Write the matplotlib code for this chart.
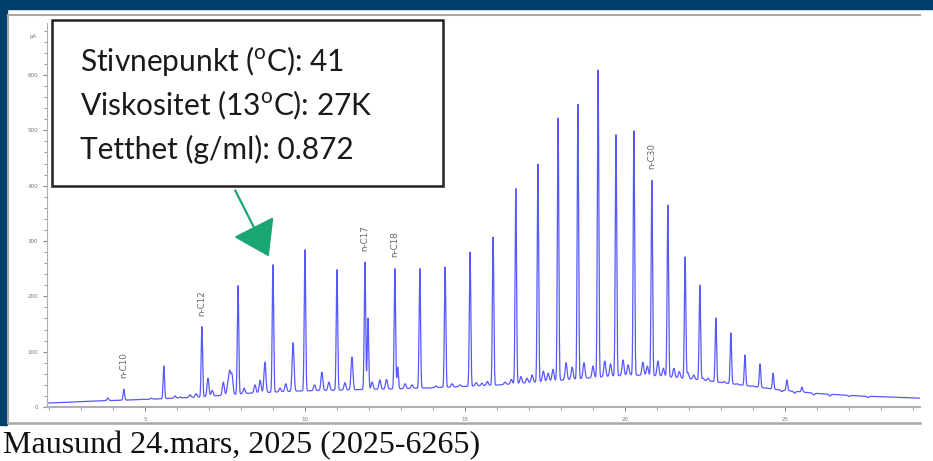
import numpy as np
import matplotlib.pyplot as plt
from matplotlib.patches import Rectangle

# n-alkan topper: retensjonstid (min) og toppverdi (pA)
peak_t = [4.34, 5.59, 6.78, 7.91, 9.00, 10.00, 11.00, 11.875, 11.97, 12.81, 12.90,
          13.59, 14.38, 15.16, 15.88, 16.59, 17.28, 17.91, 18.53, 19.16, 19.72,
          20.28, 20.84, 21.34, 21.88, 22.34, 22.84, 23.31, 23.75, 24.22, 24.63,
          25.06, 25.53]
peak_v = [32, 74, 145, 220, 257, 284, 248, 262, 161, 251, 72,
          251, 253, 280, 307, 396, 439, 524, 549, 609, 492,
          499, 410, 365, 271, 220, 161, 134, 94, 78, 61,
          49, 36]

# små topper
minor_t = [3.84, 5.94, 6.41, 6.97, 7.59, 7.72, 8.44, 8.75, 9.22, 9.63, 10.53,
           11.47, 12.34, 13.13, 13.90, 14.84, 15.53, 16.25, 16.94, 17.60, 18.16,
           18.72, 19.37, 19.94, 20.56, 21.03, 21.53, 21.97, 22.44,
           4.90, 5.20, 6.10, 6.60, 7.10, 7.45, 7.65, 8.10, 8.60, 9.40, 10.30,
           10.75, 11.25, 12.10, 12.55, 13.35, 14.10, 14.60, 15.35, 15.70, 16.45,
           16.75, 17.10, 17.45, 17.75, 18.35, 19.00, 19.55, 20.10, 20.70, 21.20,
           21.70, 22.15, 22.60, 23.10, 23.50, 24.00, 24.45, 24.90, 25.30, 25.90,
           26.40, 27.00, 27.60]
minor_v = [16, 20, 22, 52, 40, 58, 40, 81, 34, 116, 63,
           90, 49, 42, 34, 40, 43, 45, 52, 61, 80,
           80, 83, 85, 81, 83, 70, 62, 52,
           14, 16, 18, 24, 30, 45, 62, 34, 48, 42, 40,
           45, 44, 45, 50, 40, 38, 42, 44, 46, 50,
           55, 58, 65, 68, 72, 74, 78, 76, 74, 70,
           64, 58, 52, 46, 42, 38, 34, 28, 25, 22,
           20, 19, 17]

# grunnlinje (pukkel)
base_t = [1.94, 3.60, 5.16, 6.72, 8.28, 9.84, 11.40, 12.97, 14.53, 16.10, 17.66,
          19.22, 20.16, 21.10, 22.34, 23.60, 24.84, 26.10, 27.34, 29.22]
base_v = [7, 11, 14, 18, 25, 29, 31, 33, 36, 40, 47,
          54, 58, 56, 49, 40, 31, 24, 20, 16]

labels = {"n-C10": 4.34, "n-C12": 6.78, "n-C17": 11.875, "n-C18": 12.81, "n-C30": 20.84}

info = [r"Stivnepunkt ($^{\mathrm{o}}$C): 41",
        r"Viskositet (13$^{\mathrm{o}}$C): 27K",
        r"Tetthet (g/ml): 0.872"]
caption = "Mausund 24.mars, 2025 (2025-6265)"

plt.rcParams['mathtext.fontset'] = 'custom'
plt.rcParams['mathtext.rm'] = 'Lato'

W, H = 933, 461
fig = plt.figure(figsize=(W / 100, H / 100), dpi=100)

# bakgrunn / ramme i piksler
bg = fig.add_axes([0, 0, 1, 1], zorder=0)
bg.set_xlim(0, W)
bg.set_ylim(H, 0)
bg.axis("off")
bg.add_patch(Rectangle((0, 0), W, 9, color="#003e6c"))
bg.add_patch(Rectangle((0, 0), 6.5, 425, color="#003e6c"))
bg.plot([7.5, 920], [15, 15], color="#a8a8a8", lw=1.5)
bg.plot([7.5, 7.5], [15, 423], color="#a8a8a8", lw=1.5)
bg.plot([7.5, 920], [423, 423], color="#a8a8a8", lw=1.8)
bg.text(3, 453, caption, family="Liberation Serif", fontsize=23, va="baseline", color="#111")

# kromatogram
ax = fig.add_axes([47 / W, 1 - 407 / H, (920 - 47) / W, (407 - 23) / H], zorder=1)
ax.patch.set_alpha(0)
t = np.arange(1.94, 29.22, 0.004)
sig = np.interp(t, base_t, base_v).astype(float)
for pt, pv in zip(peak_t, peak_v):
    b = np.interp(pt, base_t, base_v)
    sig += (pv - b) * np.exp(-0.5 * ((t - pt) / 0.022) ** 2)
for pt, pv in zip(minor_t, minor_v):
    b = np.interp(pt, base_t, base_v)
    sig += (pv - b) * np.exp(-0.5 * ((t - pt) / 0.03) ** 2)
ax.plot(t, sig, color="#4646ff", lw=0.9, alpha=0.9)

for name, lt in labels.items():
    lv = peak_v[peak_t.index(lt)]
    ax.annotate(name, (lt, lv), xytext=(0, 8), textcoords="offset points",
                rotation=90, ha="center", va="bottom", fontsize=6.3, color="#666")

ax.set_xlim(1.94, 29.22)
ax.set_ylim(0, 694)
for s in ["top", "right"]:
    ax.spines[s].set_visible(False)
ax.spines["left"].set_color("#b0b0b0")
ax.spines["bottom"].set_color("#b0b0b0")
ax.spines["bottom"].set_linewidth(1.5)
ax.set_xticks([5, 10, 15, 20, 25])
ax.set_xticks(np.arange(2, 30, 1), minor=True)
ax.set_yticks(np.arange(0, 700, 100))
ax.set_yticks(np.arange(0, 690, 20), minor=True)
ax.tick_params(axis="both", which="both", colors="#888", labelsize=4, labelcolor="#777")
ax.tick_params(which="major", length=3)
ax.tick_params(which="minor", length=2)
ax.tick_params(axis="x", pad=4)
ax.text(-0.012, 670, "pA", transform=ax.get_yaxis_transform(), ha="right", va="center",
        fontsize=4, color="#777")

# tekstboks og pil
ov = fig.add_axes([0, 0, 1, 1], zorder=2)
ov.set_xlim(0, W)
ov.set_ylim(H, 0)
ov.axis("off")
ov.add_patch(Rectangle((52, 20), 391, 166, facecolor="white", edgecolor="#222", lw=1.8))
for i, line in enumerate(info):
    ov.text(80, 61 + 44 * i, line, family="Lato", fontsize=21.5, va="center", color="#1a1a1a")
ov.annotate("", xy=(270, 259), xytext=(234, 188),
            arrowprops=dict(arrowstyle="-|>,head_length=0.9,head_width=0.6",
                            color="#1aa672", lw=1.6, mutation_scale=24))

fig.savefig("out.png", dpi=100)
